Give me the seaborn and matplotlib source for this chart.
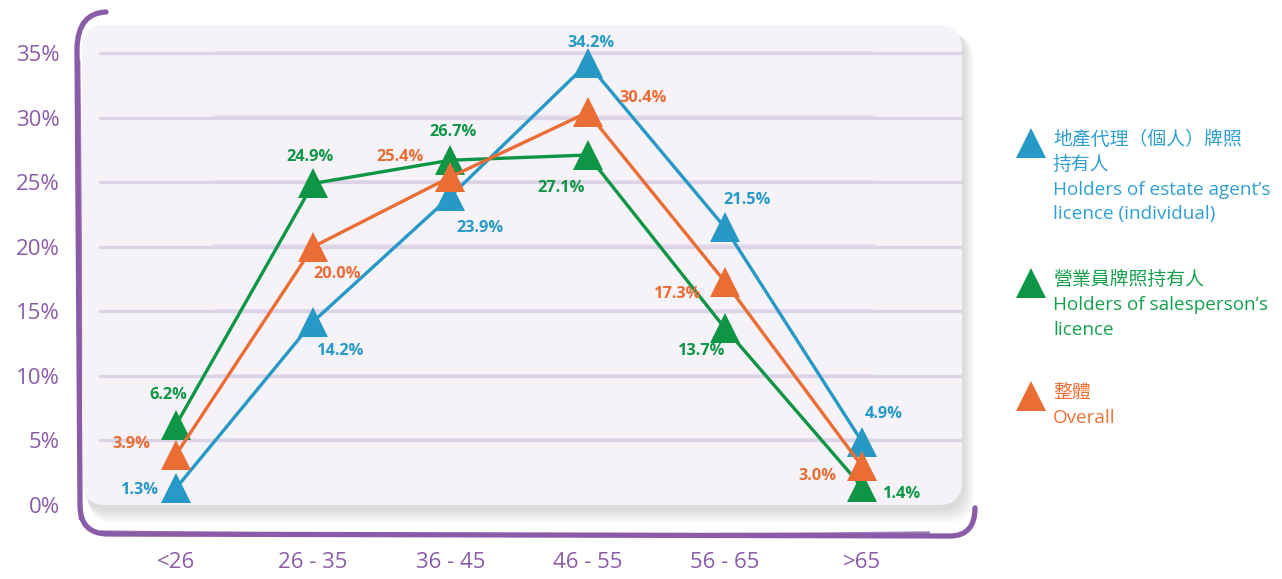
import numpy as np
import pandas as pd
import matplotlib
matplotlib.use("Agg")
import matplotlib.pyplot as plt
import seaborn as sns
from matplotlib.patches import FancyBboxPatch, PathPatch
from matplotlib.path import Path

# data
ages = ["<26", "26 - 35", "36 - 45", "46 - 55", "56 - 65", ">65"]
agent_pct = [1.3, 14.2, 23.9, 34.2, 21.5, 4.9]
sales_pct = [6.2, 24.9, 26.7, 27.1, 13.7, 1.4]
overall_pct = [3.9, 20.0, 25.4, 30.4, 17.3, 3.0]
series_names = ["agent", "sales", "overall"]
y_ticks = [0, 5, 10, 15, 20, 25, 30, 35]

legend_text = [
    "地產代理（個人）牌照\n持有人\nHolders of estate agent’s\nlicence (individual)",
    "營業員牌照持有人\nHolders of salesperson’s\nlicence",
    "整體\nOverall",
]

# styles
colors = {"agent": "#2799c6", "sales": "#0e9545", "overall": "#ea6d35"}
text_colors = {"agent": "#2f9fd3", "sales": "#16a04c", "overall": "#ee7238"}
purple = "#8a5ca8"
grid_col = "#ddd3e7"
# label offsets in pixels (dx, dy up) relative to each marker
offsets = {
    "agent": [(-36, -2), (27, -29), (30, -32), (3, 20), (22, 27), (22, 28)],
    "sales": [(-8, 30), (-3, 26), (3, 28), (-26, -33), (-23, -23), (40, -7)],
    "overall": [(-45, 11), (24, -27), (-50, 20), (56, 14), (-47, -12), (-45, -10)],
}

df = pd.concat([
    pd.DataFrame({"pos": range(len(ages)), "pct": vals, "series": name})
    for name, vals in zip(series_names, [agent_pct, sales_pct, overall_pct])
])

sns.set_theme(style="white")
plt.rcParams["font.family"] = ["Open Sans", "Noto Sans CJK TC", "DejaVu Sans"]

W, H = 1282, 579
fig = plt.figure(figsize=(W / 100, H / 100), dpi=100)

# background layer in pixel coordinates
bg = fig.add_axes([0, 0, 1, 1], zorder=0)
bg.set_xlim(0, W)
bg.set_ylim(H, 0)
bg.axis("off")

# soft shadow under the panel
for k in range(8):
    bg.add_patch(FancyBboxPatch((84 + k * 0.6, 28 + k * 0.9), 880 + k * 0.8, 482 + k * 0.9,
                                boxstyle="round,pad=0,rounding_size=26",
                                facecolor="#7a7a7a", edgecolor="none", alpha=0.035))
bg.add_patch(FancyBboxPatch((82, 25), 880, 480, boxstyle="round,pad=0,rounding_size=24",
                            facecolor="#f5f3f8", edgecolor="none"))

# hand drawn purple frame (left, bottom, corners)
frame = Path(
    [(106, 12), (78, 13), (77, 48), (80, 505), (80, 534), (108, 534),
     (950, 536), (975, 536), (975, 508)],
    [Path.MOVETO, Path.CURVE3, Path.CURVE3, Path.LINETO, Path.CURVE3, Path.CURVE3,
     Path.LINETO, Path.CURVE3, Path.CURVE3])
bg.add_patch(PathPatch(frame, facecolor="none", edgecolor=purple, lw=3.8, capstyle="round"))
frame2 = Path([(79, 60), (82, 300), (80, 520)], [Path.MOVETO, Path.CURVE3, Path.CURVE3])
bg.add_patch(PathPatch(frame2, facecolor="none", edgecolor=purple, lw=2.0, alpha=0.8))
frame3 = Path([(100, 532), (500, 538), (930, 533)], [Path.MOVETO, Path.CURVE3, Path.CURVE3])
bg.add_patch(PathPatch(frame3, facecolor="none", edgecolor=purple, lw=2.5, alpha=0.8))

# main axes: category i at 176 + 137.2 i px, 1% = 12.914 px
ax = fig.add_axes([82 / W, (H - 505) / H, 880 / W, 480 / H], zorder=1)
ax.set_facecolor("none")
ax.set_xlim(-0.685, 5.729)
ax.set_ylim(0, 37.17)

for yv in y_ticks[1:]:
    ax.axhline(yv, xmin=0.02, xmax=1.0, color=grid_col, lw=2.4, zorder=1, solid_capstyle="round")
    ax.axhline(yv + 0.1, xmin=0.15, xmax=0.9, color=grid_col, lw=1.4, alpha=0.6, zorder=1)

sns.lineplot(data=df, x="pos", y="pct", hue="series", hue_order=series_names,
             palette=colors, marker="^", markersize=21, markeredgewidth=0,
             linewidth=2.4, sort=False, legend=False, ax=ax, zorder=3)

for name, vals in zip(series_names, [agent_pct, sales_pct, overall_pct]):
    for i, v in enumerate(vals):
        dx, dy = offsets[name][i]
        ax.annotate(f"{v:.1f}%", (i, v), xytext=(dx, dy), textcoords="offset pixels",
                    ha="center", va="center", fontsize=11.8, fontweight="bold",
                    color=colors[name], zorder=5)

ax.set_xticks(range(len(ages)))
ax.set_xticklabels(ages)
ax.set_yticks(y_ticks)
ax.set_yticklabels([f"{t}%" for t in y_ticks])
ax.tick_params(axis="both", length=0, labelsize=16, labelcolor=purple)
ax.tick_params(axis="y", pad=16)
ax.tick_params(axis="x", pad=34)
ax.set_xlabel("")
ax.set_ylabel("")
for s in ax.spines.values():
    s.set_visible(False)

# legend drawn beside the panel
leg_y = [143, 283, 396]
for name, txt, yy in zip(series_names, legend_text, leg_y):
    bg.plot([1031], [yy], marker="^", markersize=22, markeredgewidth=0,
            color=colors[name], linestyle="none")
    bg.text(1053, yy - 12, txt, ha="left", va="top", fontsize=13.6,
            color=text_colors[name], linespacing=1.48)

fig.savefig("out.png", dpi=100)
